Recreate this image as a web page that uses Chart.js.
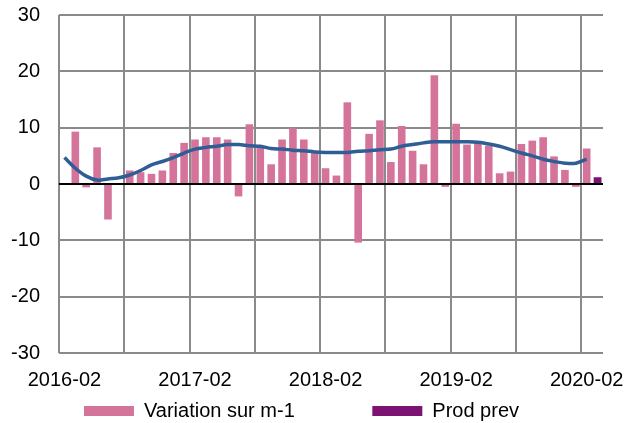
<!DOCTYPE html>
<html>
<head>
<meta charset="utf-8">
<script src="https://cdn.jsdelivr.net/npm/chart.js@4/dist/chart.umd.min.js"></script>
<style>
  html, body { margin: 0; padding: 0; background: #fff; }
  #chart { display: block; }
</style>
</head>
<body>
<canvas id="chart" width="627" height="423"></canvas>
<script>
// Months on the x axis (2016-02 .. 2020-03)
const months = [
  "2016-02", "2016-03", "2016-04", "2016-05", "2016-06", "2016-07", "2016-08", "2016-09", "2016-10", "2016-11", "2016-12",
  "2017-01", "2017-02", "2017-03", "2017-04", "2017-05", "2017-06", "2017-07", "2017-08", "2017-09", "2017-10", "2017-11", "2017-12",
  "2018-01", "2018-02", "2018-03", "2018-04", "2018-05", "2018-06", "2018-07", "2018-08", "2018-09", "2018-10", "2018-11", "2018-12",
  "2019-01", "2019-02", "2019-03", "2019-04", "2019-05", "2019-06", "2019-07", "2019-08", "2019-09", "2019-10", "2019-11", "2019-12",
  "2020-01", "2020-02", "2020-03"
];

// Monthly change (bars)
const variation = [
  null, 9.3, -0.6, 6.5, -6.3, 0, 2.4, 2.1, 1.8, 2.4, 5.5,
  7.3, 7.9, 8.3, 8.3, 7.9, -2.2, 10.6, 6.7, 3.5, 7.9, 9.9, 7.9,
  5.5, 2.8, 1.5, 14.5, -10.4, 8.9, 11.3, 3.9, 10.3, 5.9, 3.5, 19.3,
  -0.5, 10.7, 7.0, 7.4, 6.8, 1.9, 2.2, 7.1, 7.7, 8.3, 4.9, 2.5,
  -0.5, 6.3, null
];

// Smoothed trend (line)
const trend = [
  4.7, 2.8, 1.4, 0.7, 0.9, 1.1, 1.6, 2.4, 3.4, 4.0, 4.7,
  5.5, 6.2, 6.5, 6.7, 7.0, 7.0, 6.8, 6.7, 6.3, 6.2, 6.0, 5.9,
  5.7, 5.6, 5.6, 5.6, 5.8, 5.9, 6.1, 6.2, 6.7, 7.0, 7.3, 7.5,
  7.5, 7.5, 7.5, 7.4, 7.1, 6.7, 6.1, 5.5, 5.0, 4.4, 4.0, 3.7,
  3.7, 4.4, null
];

// Forecast
const prodPrevMonths = ["2020-03"];
const prodPrev = [1.2];

const pink = "#d4749a";
const purple = "#7c1272";
const blue = "#2f5d95";
const gridGray = "#8a8a8a";
const font = { family: "'Liberation Sans', Arial, sans-serif", size: 20 };

Chart.defaults.color = "#000";

const ctx = document.getElementById("chart").getContext("2d");

new Chart(ctx, {
  data: {
    labels: months,
    datasets: [
      {
        type: "line",
        label: "Tendance",
        data: trend,
        borderColor: blue,
        borderWidth: 3.5,
        pointRadius: 0,
        tension: 0.35,
        fill: false,
        order: 0,
      },
      {
        type: "bar",
        label: "Variation sur m-1",
        data: variation,
        backgroundColor: pink,
        grouped: false,
        categoryPercentage: 1,
        barPercentage: 0.7,
        order: 1,
      },
      {
        type: "bar",
        label: "Prod prev",
        data: prodPrevMonths.map((m, i) => ({ x: m, y: prodPrev[i] })),
        backgroundColor: purple,
        grouped: false,
        categoryPercentage: 1,
        barPercentage: 0.72,
        order: 1,
      },
    ],
  },
  options: {
    responsive: false,
    animation: false,
    devicePixelRatio: 1,
    layout: { padding: { top: 15, right: 24, left: 0, bottom: -8 } },
    scales: {
      x: {
        offset: true,
        border: { display: false },
        afterFit: (scale) => { scale.height = 42; },
        grid: {
          offset: true,
          drawTicks: false,
          lineWidth: 2,
          color: (c) => (c.index % 6 === 0 && c.index < months.length ? gridGray : "rgba(0,0,0,0)"),
        },
        ticks: {
          autoSkip: false,
          maxRotation: 0,
          minRotation: 0,
          padding: 15,
          font: font,
          callback: function (val, i) {
            return i % 12 === 0 ? this.getLabelForValue(val) : "";
          },
        },
      },
      y: {
        min: -30,
        max: 30,
        border: { display: false },
        afterFit: (scale) => {
          scale.width = 59;
          scale.paddingTop = 0;
          scale.paddingBottom = 0;
        },
        grid: {
          drawTicks: false,
          lineWidth: 2,
          color: (c) => (c.tick && c.tick.value === 0 ? "#000" : gridGray),
        },
        ticks: {
          stepSize: 10,
          padding: 19,
          font: font,
        },
      },
    },
    plugins: {
      tooltip: { enabled: false },
      legend: {
        position: "bottom",
        onClick: null,
        labels: {
          boxWidth: 50,
          boxHeight: 10,
          padding: 6,
          font: font,
          generateLabels: () => [
            { text: "Variation sur m-1", fillStyle: pink, strokeStyle: pink, lineWidth: 0 },
            { text: " ", fillStyle: "rgba(0,0,0,0)", strokeStyle: "rgba(0,0,0,0)", lineWidth: 0 },
            { text: "Prod prev", fillStyle: purple, strokeStyle: purple, lineWidth: 0 },
          ],
        },
      },
    },
  },
});
</script>
</body>
</html>
